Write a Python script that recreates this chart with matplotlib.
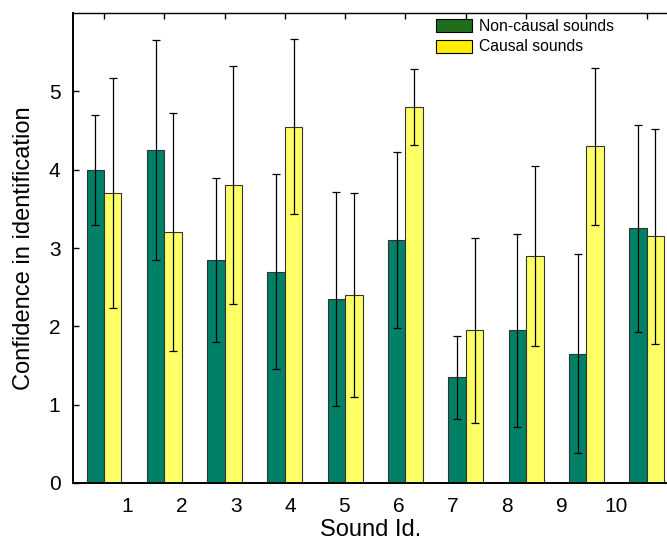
import matplotlib
matplotlib.use("Agg")
import matplotlib.pyplot as plt
from matplotlib.patches import Patch
import numpy as np

plt.rcParams['font.family'] = ['Liberation Sans', 'DejaVu Sans']

sound_ids = [1, 2, 3, 4, 5, 6, 7, 8, 9, 10]
tick_labels = ["1", "2", "3", "4", "5", "6", "7", "8", "9", "10"]
noncausal_mean = [4.00, 4.25, 2.85, 2.70, 2.35, 3.10, 1.35, 1.95, 1.65, 3.25]
noncausal_sd = [0.70, 1.40, 1.05, 1.25, 1.37, 1.12, 0.53, 1.23, 1.27, 1.32]
causal_mean = [3.70, 3.20, 3.80, 4.55, 2.40, 4.80, 1.95, 2.90, 4.30, 3.15]
causal_sd = [1.47, 1.52, 1.52, 1.12, 1.30, 0.48, 1.18, 1.15, 1.00, 1.37]

W, H = 667, 543
fig = plt.figure(figsize=(W / 100, H / 100), dpi=100)
ax = fig.add_axes([73 / W, 1 - 483 / H, (669 - 73) / W, (483 - 13) / H])

x = np.array(sound_ids, dtype=float)
bw = 0.29
green = "#008066"
yellow = "#FFFF66"
ekw = dict(ecolor="black", elinewidth=0.9, capsize=3, capthick=0.9)
ax.bar(x - bw / 2, noncausal_mean, bw, color=green, edgecolor="#333333",
       linewidth=0.8, yerr=noncausal_sd, error_kw=ekw, zorder=2)
ax.bar(x + bw / 2, causal_mean, bw, color=yellow, edgecolor="#333333",
       linewidth=0.8, yerr=causal_sd, error_kw=ekw, zorder=2)

ax.set_xlim(0.486, 10.37)
ax.set_ylim(0, 6)
ax.set_yticks([0, 1, 2, 3, 4, 5])
ax.tick_params(axis='y', direction='in', length=4, width=1, labelsize=15, pad=9)

# bottom labels (offset from the bar groups, as in the reference)
label_pos = np.linspace(1.381, 9.486, len(tick_labels))
ax.set_xticks(label_pos)
ax.set_xticklabels(tick_labels)
ax.set_xticks(x, minor=True)
ax.tick_params(axis='x', which='major', bottom=False, top=False, length=0,
               labelsize=15, pad=10)
ax.tick_params(axis='x', which='minor', bottom=False, top=True, direction='in',
               length=4, width=1)

for s in ['left', 'bottom']:
    ax.spines[s].set_linewidth(1.4)
ax.spines['top'].set_linewidth(1.0)
ax.spines['right'].set_visible(False)

ax.set_xlabel("Sound Id.", fontsize=17, labelpad=2.5)
ax.set_ylabel("Confidence in identification", fontsize=17, labelpad=10)

handles = [Patch(facecolor="#1E6E1E", edgecolor="black", linewidth=0.8),
           Patch(facecolor="#FFEE00", edgecolor="black", linewidth=0.8)]
fig.legend(handles, ["Non-causal sounds", "Causal sounds"],
           loc='upper left', bbox_to_anchor=(436 / W, 1 - 19 / H),
           frameon=False, fontsize=11.3, handlelength=2.3, handleheight=0.9,
           handletextpad=0.45, labelspacing=0.35, borderpad=0, borderaxespad=0)

fig.savefig("out.png", dpi=100)
